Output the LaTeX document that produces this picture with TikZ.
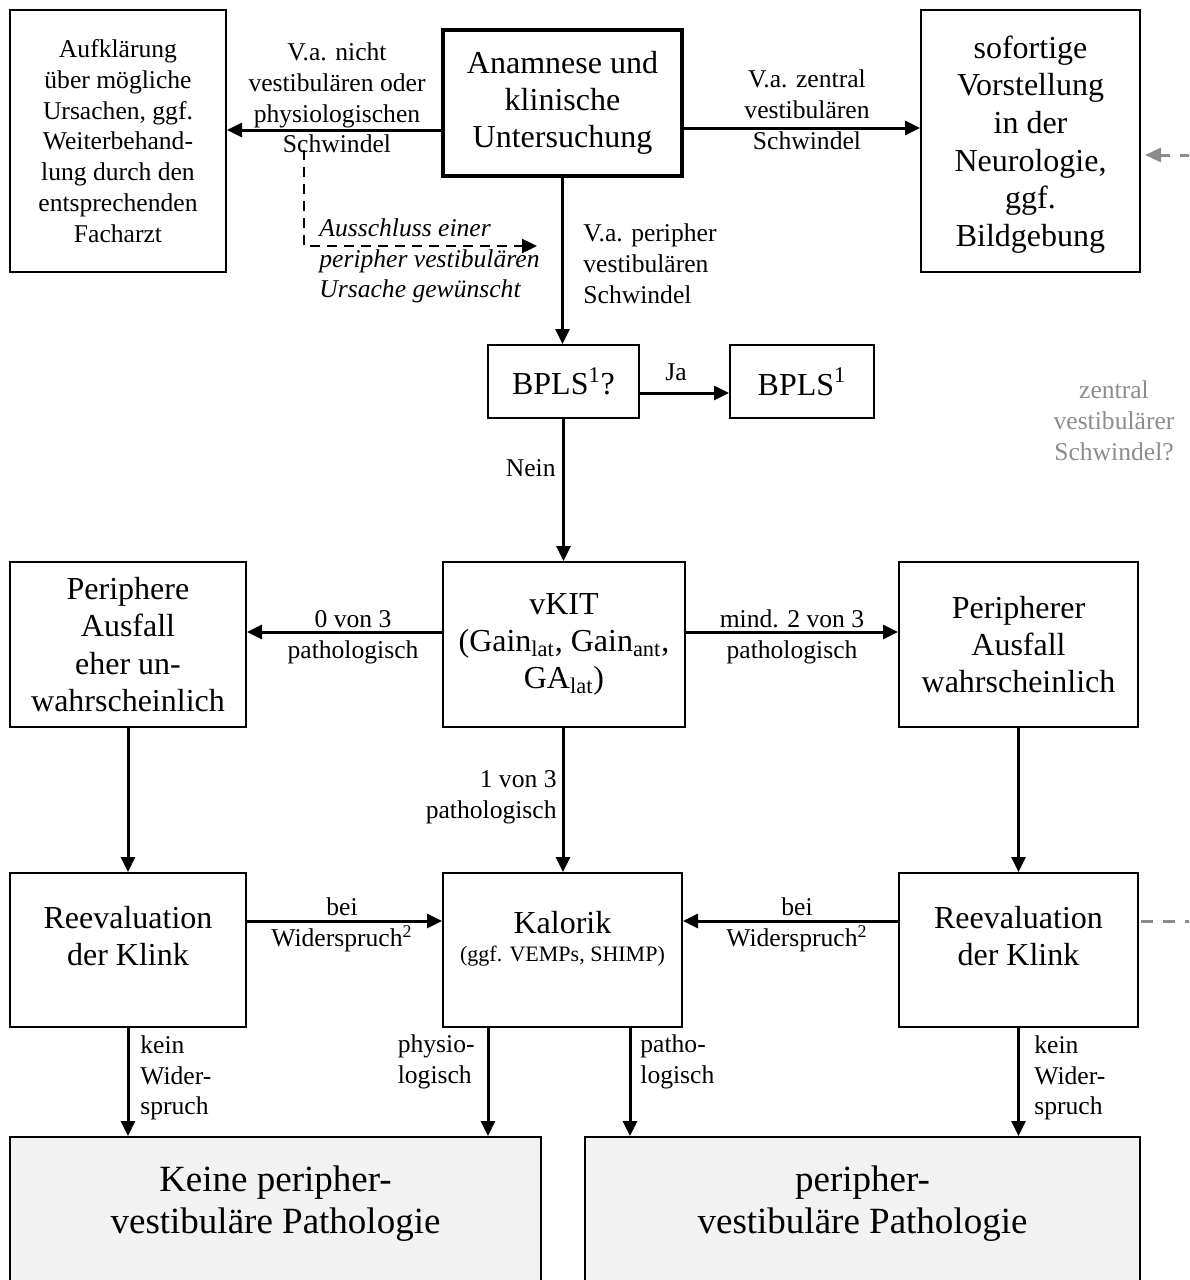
\documentclass[tikz,border=0pt]{standalone}
\usepackage{fontspec}
\setmainfont{Liberation Serif}
\usetikzlibrary{arrows.meta}

\newcommand\bigtxt{\fontsize{16}{18.6}\selectfont}
\newcommand\labtxt{\fontsize{12.8}{15.4}\selectfont}
\newcommand\schlusstxt{\fontsize{18.5}{21}\selectfont}

\tikzset{
  box/.style 2 args={draw, line width=1pt, align=center, inner sep=2pt,
    font=\bigtxt, minimum width=#1*\u, minimum height=#2*\u},
  endbox/.style={fill=black!5, font=\schlusstxt, text depth=12pt},
  arr/.style={-{Triangle[length=7.5pt,width=7pt]}, line width=1.5pt},
  lbl/.style={font=\labtxt, align=center, inner sep=0pt},
  grayline/.style={draw=black!45, line width=1.5pt, dash pattern=on 6pt off 5pt},
}

\begin{document}
\begin{tikzpicture}[x=0.5pt,y=-0.5pt]
  % Einheit (1 px)
  \def\u{0.5pt}
  \clip (0,0) rectangle (1189,1280);
  \useasboundingbox (0,0) rectangle (1189,1280);

  % Kästen
  \node[box={239}{146}, line width=2pt] (anam) at (562.5,103) {Anamnese und\\klinische\\Untersuchung};
  \node[box={216}{262}, font=\labtxt] (aufk) at (118,141) {Aufklärung\\über mögliche\\Ursachen, ggf.\\Weiterbehand-\\lung durch den\\entsprechenden\\Facharzt};
  \node[box={219}{262}, font=\fontsize{16}{18.8}\selectfont, text depth=0pt] (sofort) at (1030.5,141) {sofortige\\Vorstellung\\in der\\Neurologie,\\ggf.\\Bildgebung};
  \node[box={151}{73}] (bplsq) at (563.5,381.5) {BPLS\textsuperscript{1}?};
  \node[box={144}{73}] (bpls) at (802,381.5) {BPLS\textsuperscript{1}};
  \node[box={242}{165}] (vkit) at (564,644.5) {vKIT\\(Gain\textsubscript{lat}, Gain\textsubscript{ant},\\GA\textsubscript{lat})};
  \node[box={236}{165}] (ausfl) at (128,644.5) {Periphere\\Ausfall\\eher un-\\wahrscheinlich};
  \node[box={239}{165}] (ausfr) at (1018.5,644.5) {Peripherer\\Ausfall\\wahrscheinlich};
  \node[box={236}{154}, text depth=14pt] (reevl) at (128,950) {Reevaluation\\der Klink};
  \node[box={239}{154}, text depth=14pt] (kal) at (562.5,950) {Kalorik\\[-4.5pt]{\fontsize{11}{14}\selectfont(ggf. VEMPs, SHIMP)}};
  \node[box={239}{154}, text depth=14pt] (reevr) at (1018.5,950) {Reevaluation\\der Klink};
  \node[box={531}{150}, endbox] (keine) at (275.5,1212) {Keine peripher-\\vestibuläre Pathologie};
  \node[box={555}{150}, endbox] (patho) at (862.5,1212) {peripher-\\vestibuläre Pathologie};

  % Pfeile
  \draw[arr] (anam.west |- 0,130) -- (aufk.east |- 0,130);
  \draw[arr] (anam.east |- 0,128) -- (sofort.west |- 0,128);
  \draw[arr] (anam.south) -- (anam.south |- bplsq.north);
  \draw[arr] (bplsq.east |- 0,393) -- (bpls.west |- 0,393);
  \draw[arr] (bplsq.south) -- (bplsq.south |- vkit.north);
  \draw[arr] (vkit.west |- 0,632) -- (ausfl.east |- 0,632);
  \draw[arr] (vkit.east |- 0,632) -- (ausfr.west |- 0,632);
  \draw[arr] (vkit.south -| 563,0) -- (kal.north -| 563,0);
  \draw[arr] (ausfl.south) -- (reevl.north);
  \draw[arr] (ausfr.south) -- (reevr.north);
  \draw[arr] (reevl.east |- 0,921) -- (kal.west |- 0,921);
  \draw[arr] (reevr.west |- 0,921) -- (kal.east |- 0,921);
  \draw[arr] (reevl.south) -- (keine.north -| reevl.south);
  \draw[arr] (kal.south -| 488,0) -- (keine.north -| 488,0);
  \draw[arr] (kal.south -| 630,0) -- (patho.north -| 630,0);
  \draw[arr] (reevr.south) -- (patho.north -| reevr.south);

  % gestrichelt
  \coordinate (dstart) at (304,150);
  \coordinate (dend) at (537,246);
  \draw[-{Triangle[length=7.5pt,width=7pt]}, line width=1.2pt, dash pattern=on 5pt off 3.5pt]
    (dstart) |- (dend);
  \coordinate (gin) at (1192,155);
  \coordinate (gout) at (1192,921);
  \draw[grayline, -{Triangle[length=8pt,width=7pt]}] (gin) -- ([xshift=2pt]sofort.east |- gin);
  \draw[grayline] (reevr.east |- gout) ++(2,0) -- (gout);

  % Beschriftungen
  \node[lbl] (l1) at (337,98) {V.a. nicht\\vestibulären oder\\physiologischen\\Schwindel};
  \node[lbl] (l2) at (807,110) {V.a. zentral\\vestibulären\\Schwindel};
  \node[lbl, anchor=west, align=left] (l3) at (583,264) {V.a. peripher\\vestibulären\\Schwindel};
  \node[lbl, anchor=west, align=left, font=\labtxt\itshape] (l4) at (319,261) {Ausschluss einer\\peripher vestibulären\\Ursache gewünscht};
  \node[lbl] (lja) at (676,372) {Ja};
  \node[lbl, anchor=east] (lnein) at (556,468) {Nein};
  \node[lbl] (l0) at (353,637) {0 von 3\\pathologisch};
  \node[lbl] (l2v3) at (792,637) {mind. 2 von 3\\pathologisch};
  \node[lbl, anchor=east, align=right] (l1v3) at (557,797) {1 von 3\\pathologisch};
  \node[lbl] (lbeil) at (342,925) {bei\\Widerspruch\textsuperscript{2}};
  \node[lbl] (lbeir) at (797,925) {bei\\Widerspruch\textsuperscript{2}};
  \node[lbl, anchor=west, align=left] (lkeinl) at (140,1078) {kein\\Wider-\\spruch};
  \node[lbl, anchor=east, align=left] (lphys) at (475,1062) {physio-\\logisch};
  \node[lbl, anchor=west, align=left] (lpath) at (640,1062) {patho-\\logisch};
  \node[lbl, anchor=west, align=left] (lkeinr) at (1034,1078) {kein\\Wider-\\spruch};
  \node[lbl, text=black!45] (lzentral) at (1114,421) {zentral\\vestibulärer\\Schwindel?};
\end{tikzpicture}
\end{document}
